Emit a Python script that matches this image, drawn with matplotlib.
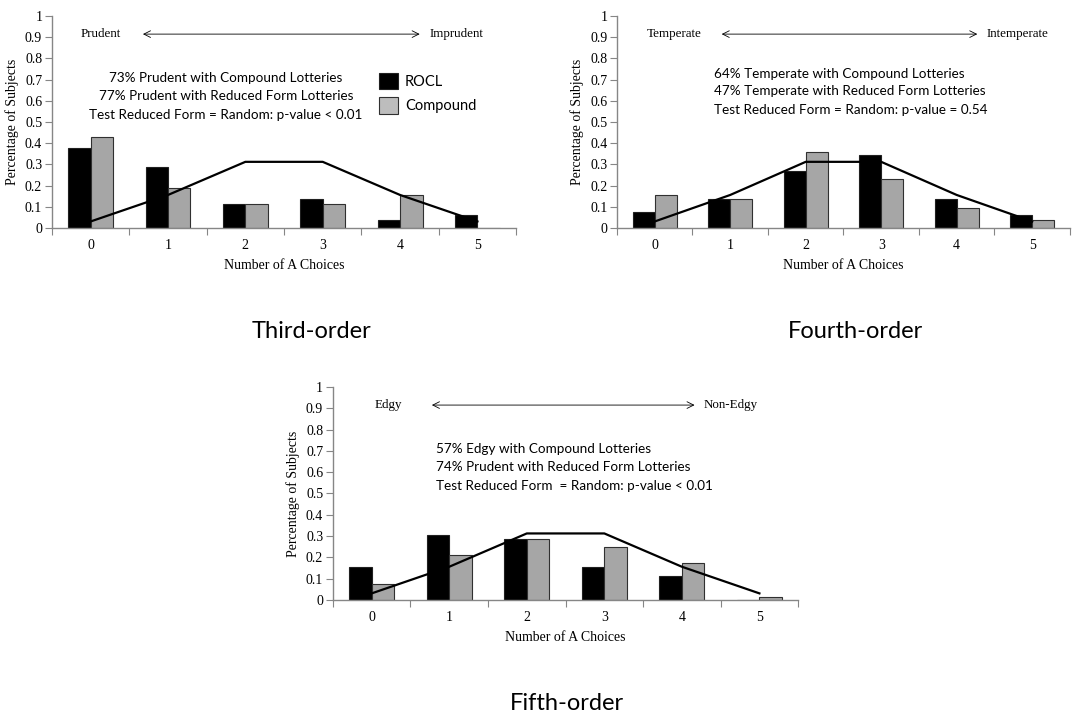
import numpy as np
import matplotlib
matplotlib.use("Agg")
import matplotlib.pyplot as plt
from matplotlib.patches import Patch

# number of A choices (0..5)
choices = [0, 1, 2, 3, 4, 5]
tick_labels = ["0", "1", "2", "3", "4", "5"]

# binomial reference for random choice (5 tasks, p=0.5)
random_line = [0.03125, 0.15625, 0.3125, 0.3125, 0.15625, 0.03125]

# third order
third_rocl = [0.38, 0.29, 0.115, 0.135, 0.04, 0.06]
third_comp = [0.43, 0.19, 0.115, 0.115, 0.155, 0.0]

# fourth order
fourth_rocl = [0.077, 0.135, 0.27, 0.345, 0.135, 0.06]
fourth_comp = [0.155, 0.135, 0.36, 0.23, 0.097, 0.04]

# fifth order
fifth_rocl = [0.155, 0.305, 0.285, 0.155, 0.115, 0.0]
fifth_comp = [0.075, 0.21, 0.285, 0.247, 0.172, 0.016]

BLACK = "#000000"
GRAY = "#a6a6a6"
SERIF = "Liberation Serif"
SANS = "Lato"
BW = 0.29


def draw_panel(ax, rocl, comp, left_word, right_word, notes, note_x, note_y,
               note_ha, arrow_x, word_x):
    x = np.array(choices)
    ax.bar(x - BW / 2, rocl, width=BW, color=BLACK, edgecolor="#202020",
           linewidth=0.8, zorder=2)
    ax.bar(x + BW / 2, comp, width=BW, color=GRAY, edgecolor="#303030",
           linewidth=0.8, zorder=2)
    ax.plot(x, random_line, color="black", linewidth=1.6, zorder=3)

    ax.set_xlim(-0.5, 5.5)
    ax.set_ylim(0, 1)
    ax.set_yticks(np.arange(0, 1.01, 0.1))
    ax.set_yticklabels(["0", "0.1", "0.2", "0.3", "0.4", "0.5", "0.6",
                        "0.7", "0.8", "0.9", "1"], fontfamily=SERIF,
                       fontsize=10)
    # tick marks between categories, labels at category centres
    ax.set_xticks(np.arange(-0.5, 5.6, 1.0))
    ax.set_xticklabels([])
    ax.set_xticks(x, minor=True)
    ax.set_xticklabels(tick_labels, minor=True, fontfamily=SERIF, fontsize=10)
    ax.tick_params(axis="x", which="minor", length=0, pad=8)
    ax.tick_params(axis="x", which="major", length=5, color="#868686")
    ax.tick_params(axis="y", length=5, color="#868686", pad=2)

    for s in ["top", "right"]:
        ax.spines[s].set_visible(False)
    for s in ["left", "bottom"]:
        ax.spines[s].set_color("#868686")
        ax.spines[s].set_linewidth(1.0)

    ax.set_xlabel("Number of A Choices", fontfamily=SERIF, fontsize=10,
                  labelpad=5)
    ax.set_ylabel("Percentage of Subjects", fontfamily=SERIF, fontsize=10,
                  labelpad=4)

    ay = 0.915
    ax.text(word_x[0], ay, left_word, fontfamily=SERIF, fontsize=9.4,
            ha="left", va="center")
    ax.annotate("", xy=(arrow_x[1], ay), xytext=(arrow_x[0], ay),
                arrowprops=dict(arrowstyle="<->", color="black", lw=0.6,
                                mutation_scale=12))
    ax.text(word_x[1], ay, right_word, fontfamily=SERIF, fontsize=9.4,
            ha="left", va="center")

    for line, yy in zip(notes, note_y):
        ax.text(note_x, yy, line, fontfamily=SANS, fontsize=9.7,
                ha=note_ha, va="center")


fig = plt.figure(figsize=(10.87, 7.15), dpi=100)

ax1 = fig.add_axes([0.0478, 0.681, 0.427, 0.2965])
draw_panel(ax1, third_rocl, third_comp, "Prudent", "Imprudent",
           ["73% Prudent with Compound Lotteries",
            "77% Prudent with Reduced Form Lotteries",
            "Test Reduced Form = Random: p-value < 0.01"],
           1.75, [0.708, 0.623, 0.535], "center",
           (0.64, 4.29), (-0.13, 4.38))
handles = [Patch(facecolor=BLACK, edgecolor="#202020", linewidth=0.8),
           Patch(facecolor="#bdbdbd", edgecolor="#303030", linewidth=0.8)]
ax1.legend(handles, ["ROCL", "Compound"], loc="upper left",
           bbox_to_anchor=(0.682, 0.78), frameon=False,
           prop={"family": SANS, "size": 10.5}, handlelength=1.3,
           handleheight=1.35, labelspacing=0.55, handletextpad=0.5,
           borderpad=0.2)

ax2 = fig.add_axes([0.5676, 0.681, 0.4167, 0.2965])
draw_panel(ax2, fourth_rocl, fourth_comp, "Temperate", "Intemperate",
           ["64% Temperate with Compound Lotteries",
            "47% Temperate with Reduced Form Lotteries",
            "Test Reduced Form = Random: p-value = 0.54"],
           0.79, [0.729, 0.646, 0.556], "left",
           (0.85, 4.31), (-0.10, 4.40))

ax3 = fig.add_axes([0.3063, 0.1608, 0.428, 0.298])
draw_panel(ax3, fifth_rocl, fifth_comp, "Edgy", "Non-Edgy",
           ["57% Edgy with Compound Lotteries",
            "74% Prudent with Reduced Form Lotteries",
            "Test Reduced Form  = Random: p-value < 0.01"],
           0.83, [0.71, 0.622, 0.536], "left",
           (0.74, 4.20), (0.04, 4.28))

# panel titles
fig.text(311 / 1087, 1 - 338 / 715, "Third-order", fontfamily=SANS,
         fontsize=17, ha="center", va="baseline")
fig.text(856 / 1087, 1 - 338 / 715, "Fourth-order", fontfamily=SANS,
         fontsize=17, ha="center", va="baseline")
fig.text(567 / 1087, 1 - 710 / 715, "Fifth-order", fontfamily=SANS,
         fontsize=17, ha="center", va="baseline")

fig.savefig("out.png", dpi=100)
